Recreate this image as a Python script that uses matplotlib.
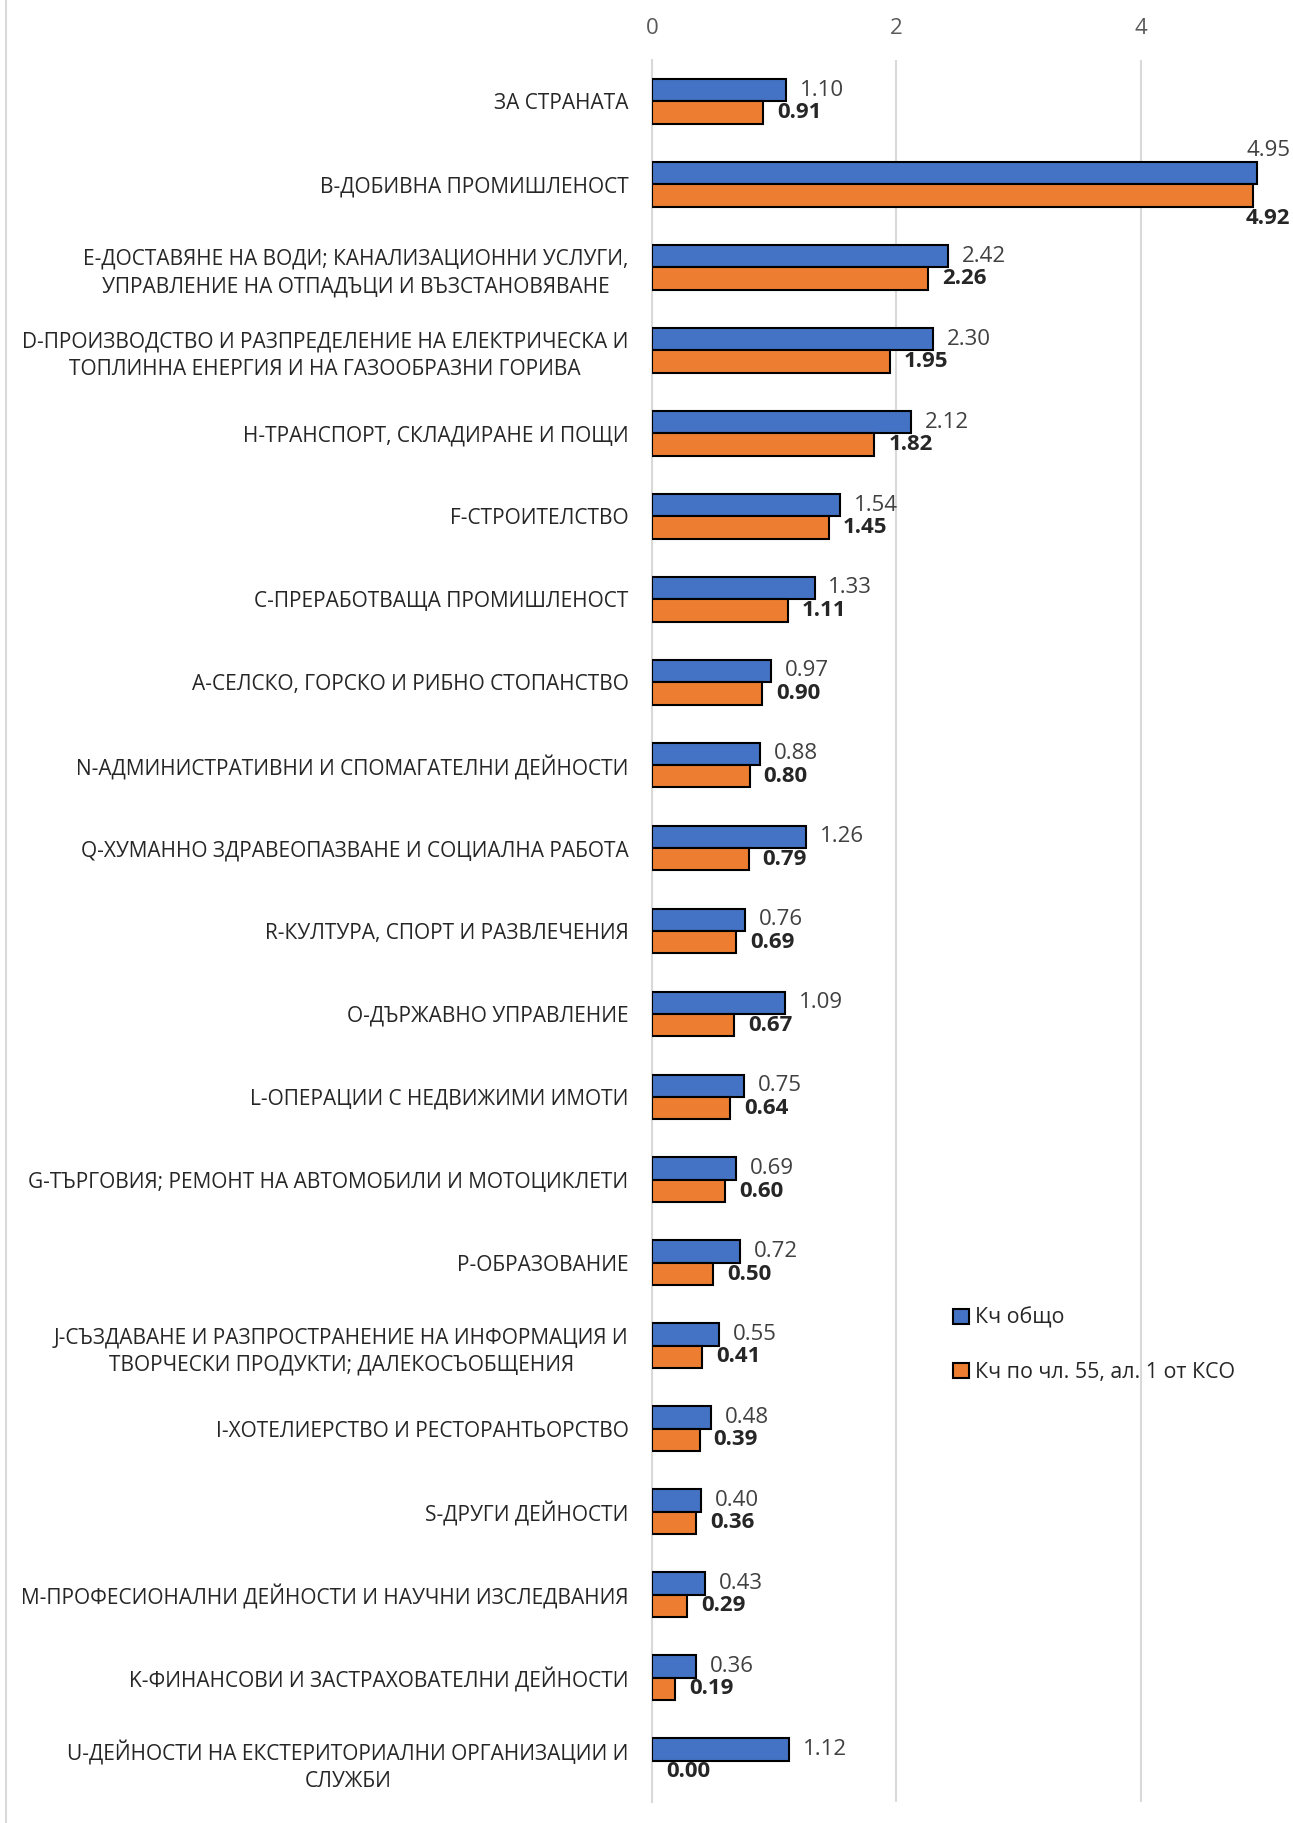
import matplotlib
matplotlib.use("Agg")
import matplotlib.pyplot as plt
from matplotlib.patches import Patch
from matplotlib.lines import Line2D
import numpy as np

plt.rcParams['font.family'] = ['Open Sans', 'DejaVu Sans']

categories = [
    "ЗА СТРАНАТА",
    "B-ДОБИВНА ПРОМИШЛЕНОСТ",
    "E-ДОСТАВЯНЕ НА ВОДИ; КАНАЛИЗАЦИОННИ УСЛУГИ,\nУПРАВЛЕНИЕ НА ОТПАДЪЦИ И ВЪЗСТАНОВЯВАНЕ",
    "D-ПРОИЗВОДСТВО И РАЗПРЕДЕЛЕНИЕ НА ЕЛЕКТРИЧЕСКА И\nТОПЛИННА ЕНЕРГИЯ И НА ГАЗООБРАЗНИ ГОРИВА",
    "H-ТРАНСПОРТ, СКЛАДИРАНЕ И ПОЩИ",
    "F-СТРОИТЕЛСТВО",
    "C-ПРЕРАБОТВАЩА ПРОМИШЛЕНОСТ",
    "A-СЕЛСКО, ГОРСКО И РИБНО СТОПАНСТВО",
    "N-АДМИНИСТРАТИВНИ И СПОМАГАТЕЛНИ ДЕЙНОСТИ",
    "Q-ХУМАННО ЗДРАВЕОПАЗВАНЕ И СОЦИАЛНА РАБОТА",
    "R-КУЛТУРА, СПОРТ И РАЗВЛЕЧЕНИЯ",
    "O-ДЪРЖАВНО УПРАВЛЕНИЕ",
    "L-ОПЕРАЦИИ С НЕДВИЖИМИ ИМОТИ",
    "G-ТЪРГОВИЯ; РЕМОНТ НА АВТОМОБИЛИ И МОТОЦИКЛЕТИ",
    "P-ОБРАЗОВАНИЕ",
    "J-СЪЗДАВАНЕ И РАЗПРОСТРАНЕНИЕ НА ИНФОРМАЦИЯ И\nТВОРЧЕСКИ ПРОДУКТИ; ДАЛЕКОСЪОБЩЕНИЯ",
    "I-ХОТЕЛИЕРСТВО И РЕСТОРАНТЬОРСТВО",
    "S-ДРУГИ ДЕЙНОСТИ",
    "M-ПРОФЕСИОНАЛНИ ДЕЙНОСТИ И НАУЧНИ ИЗСЛЕДВАНИЯ",
    "K-ФИНАНСОВИ И ЗАСТРАХОВАТЕЛНИ ДЕЙНОСТИ",
    "U-ДЕЙНОСТИ НА ЕКСТЕРИТОРИАЛНИ ОРГАНИЗАЦИИ И\nСЛУЖБИ",
]
kch_total = [1.10, 4.95, 2.42, 2.30, 2.12, 1.54, 1.33, 0.97, 0.88, 1.26, 0.76,
             1.09, 0.75, 0.69, 0.72, 0.55, 0.48, 0.40, 0.43, 0.36, 1.12]
kch_art55 = [0.91, 4.92, 2.26, 1.95, 1.82, 1.45, 1.11, 0.90, 0.80, 0.79, 0.69,
             0.67, 0.64, 0.60, 0.50, 0.41, 0.39, 0.36, 0.29, 0.19, 0.00]
series_names = ["Кч общо", "Кч по чл. 55, ал. 1 от КСО"]
x_ticks = [0, 2, 4]

BLUE = "#4472C4"
ORANGE = "#ED7D31"
FS = 15
VFS = 16

W, H = 1293, 1823
fig = plt.figure(figsize=(W / 100, H / 100), dpi=100)
ax = fig.add_axes([652 / W, 1 - 1802 / H, (1263 - 652) / W, (1802 - 60) / H])

n = len(categories)
y = np.arange(n)
bh = 0.27
lw_t = [1.5 if v > 0 else 0 for v in kch_total]
lw_o = [1.5 if v > 0 else 0 for v in kch_art55]
ax.barh(y - bh / 2, kch_total, height=bh, color=BLUE, edgecolor="black", linewidth=lw_t, zorder=3)
ax.barh(y + bh / 2, kch_art55, height=bh, color=ORANGE, edgecolor="black", linewidth=lw_o, zorder=3)

ax.set_xlim(0, 5)
ax.set_ylim(n - 0.5, -0.5)
ax.set_yticks(y)
ax.set_yticklabels(categories, fontsize=FS, color="#262626", multialignment="center",
                   linespacing=1.4)
ax.tick_params(axis="y", length=0, pad=17)
ax.set_xticks(x_ticks)
ax.xaxis.tick_top()
ax.tick_params(axis="x", length=0, pad=15, labelsize=VFS, labelcolor="#595959")
ax.grid(axis="x", color="#D9D9D9", linewidth=1.5, zorder=0)
for s in ["top", "right", "bottom"]:
    ax.spines[s].set_visible(False)
ax.spines["left"].set_color("#D9D9D9")
ax.spines["left"].set_linewidth(1.5)

xmax = ax.get_xlim()[1]
for i in range(n):
    vt, vo = kch_total[i], kch_art55[i]
    if vt > 0.9 * xmax:
        ax.annotate(f"{vt:.2f}", xy=(1.0, i - bh), xycoords=("figure fraction", "data"),
                    xytext=(-2, 1), textcoords="offset points", ha="right", va="bottom",
                    fontsize=VFS, color="#404040")
    else:
        ax.annotate(f"{vt:.2f}", xy=(vt, i - bh / 2), xytext=(10, 0), textcoords="offset points",
                    ha="left", va="center", fontsize=VFS, color="#404040")
    if vo > 0.9 * xmax:
        ax.annotate(f"{vo:.2f}", xy=(1.0, i + bh), xycoords=("figure fraction", "data"),
                    xytext=(-2, -1), textcoords="offset points", ha="right", va="top",
                    fontsize=VFS, color="#262626", fontweight="bold")
    else:
        ax.annotate(f"{vo:.2f}", xy=(vo, i + bh / 2), xytext=(10, 0), textcoords="offset points",
                    ha="left", va="center", fontsize=VFS, color="#262626", fontweight="bold")

handles = [Patch(facecolor=BLUE, edgecolor="black", linewidth=1.5),
           Patch(facecolor=ORANGE, edgecolor="black", linewidth=1.5)]
fig.legend(handles, series_names, loc="upper left", bbox_to_anchor=(934 / W, 1 - 1288 / H),
           frameon=False, fontsize=15.4, labelspacing=1.55, handlelength=0.72, handleheight=0.72,
           handletextpad=0.3, labelcolor="#262626")

fig.add_artist(Line2D([6 / W, 6 / W], [0, 1], color="#D9D9D9", linewidth=1.5))

fig.savefig("out.png", dpi=100, facecolor="white")
